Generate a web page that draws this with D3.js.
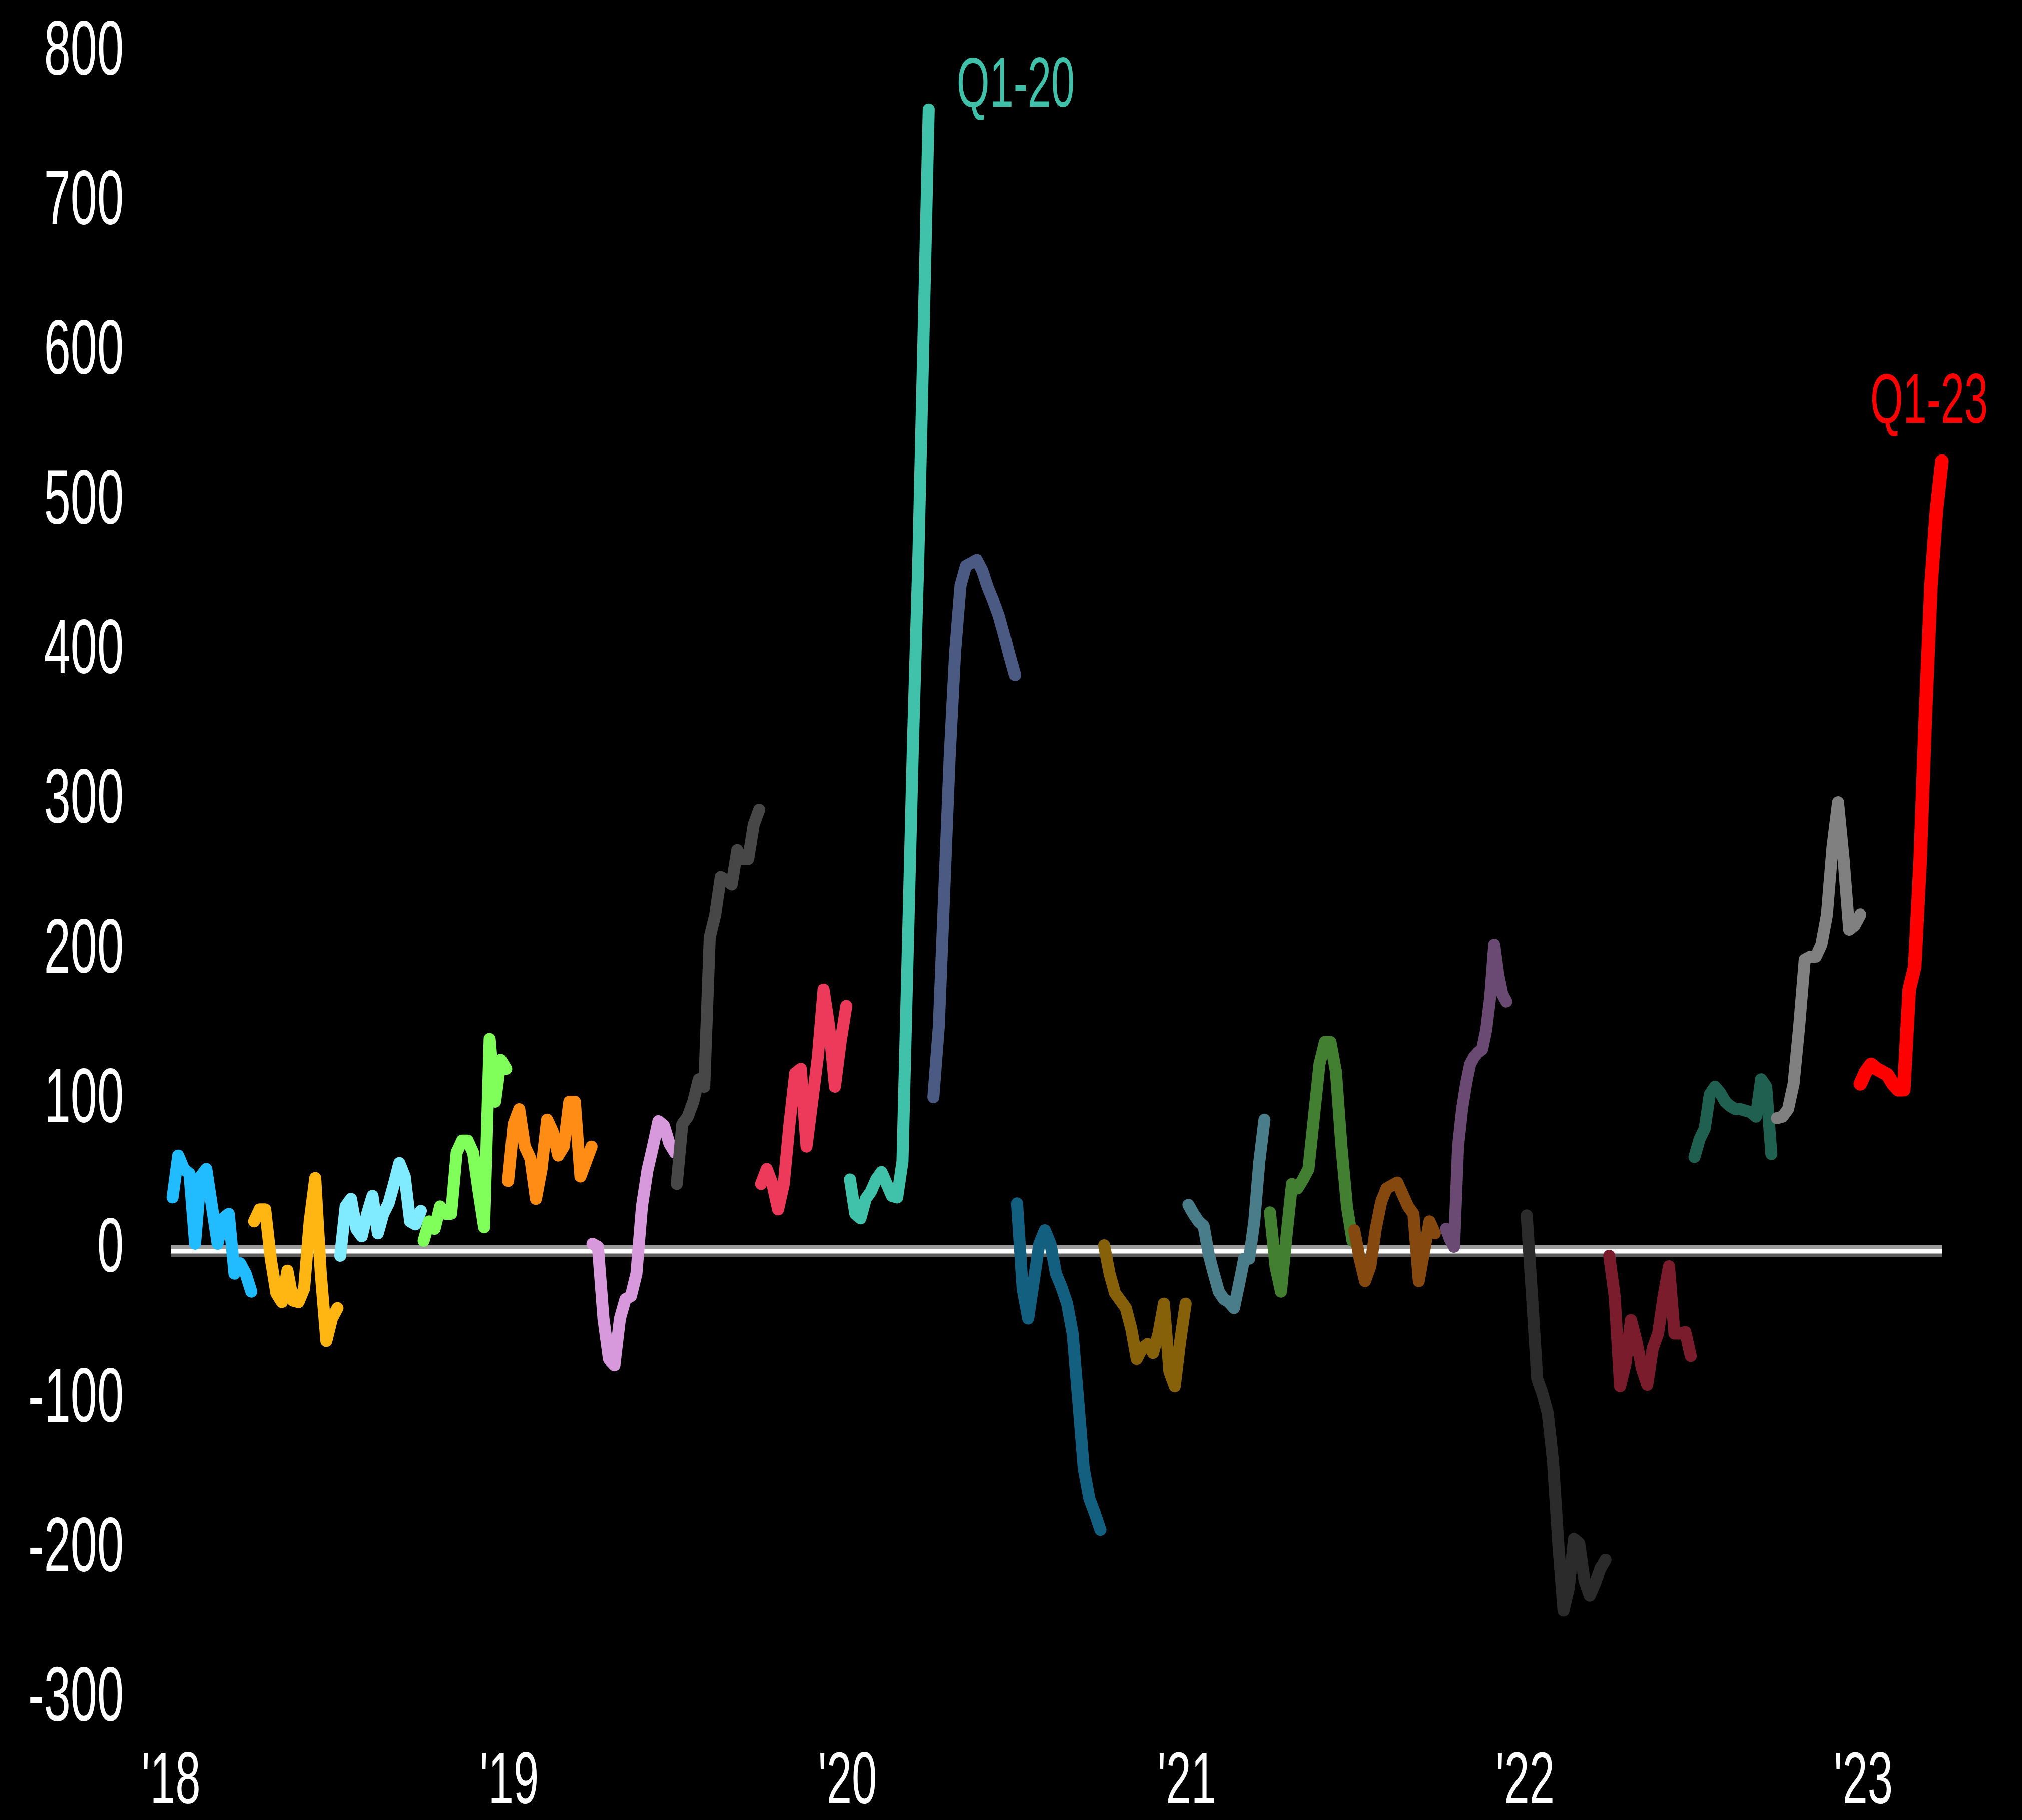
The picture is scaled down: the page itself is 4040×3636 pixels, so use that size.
<!DOCTYPE html>
<html>
<head>
<meta charset="utf-8">
<script src="https://cdn.jsdelivr.net/npm/d3@7"></script>
<style>
  html, body { margin: 0; padding: 0; background: #000; }
  svg { display: block; }
</style>
</head>
<body>
<svg id="chart"></svg>
<script>
// ---------------- DATA ----------------
const quarters = ["Q1-18","Q2-18","Q3-18","Q4-18","Q1-19","Q2-19","Q3-19","Q4-19",
                  "Q1-20","Q2-20","Q3-20","Q4-20","Q1-21","Q2-21","Q3-21","Q4-21",
                  "Q1-22","Q2-22","Q3-22","Q4-22","Q1-23"];
const firstDates = ["2018-01-03","2018-04-01","2018-07-03","2018-10-01","2018-12-31","2019-04-01",
                    "2019-07-01","2019-09-30","2020-01-04","2020-04-03","2020-07-02","2020-10-04",
                    "2021-01-03","2021-04-01","2021-07-01","2021-10-08","2022-01-03","2022-04-02",
                    "2022-07-03","2022-09-30","2022-12-29"];
const lastDates  = ["2018-03-29","2018-06-30","2018-09-28","2018-12-29","2019-03-31","2019-06-29",
                    "2019-09-28","2019-12-31","2020-03-29","2020-06-30","2020-09-30","2020-12-31",
                    "2021-03-26","2021-06-29","2021-09-26","2021-12-12","2022-03-29","2022-06-29",
                    "2022-09-24","2022-12-29","2023-03-27"];
const colors = ["#20bcff","#ffb612","#80eaff","#80ff5a","#ff8c14","#d898dc","#474747","#ee3a5a",
                "#40c2aa","#4a5a82","#135f80","#87600a","#4a7d8a","#437f30","#85480f","#6a4a72",
                "#2b2b2b","#7a1c2c","#206050","#808080","#ff0000"];

const q1_18 = [36, 64, 55, 52, 5, 50, 55, 30, 5, 22, 25, -15, -8, -15, -27];
const q2_18 = [20, 28, 28, -5, -28, -34, -13, -33, -34, -25, 20, 49, -15, -60, -45, -38];
const q3_18 = [-3, 30, 35, 15, 10, 25, 37, 12, 25, 32, 45, 59, 50, 20, 18, 27];
const q4_18 = [7, 20, 15, 30, 25, 25, 66, 74, 74, 66, 40, 16, 142, 100, 128, 122];
const q1_19 = [47, 85, 95, 70, 62, 35, 55, 88, 80, 64, 70, 100, 100, 50, 60, 70];
const q2_19 = [5, 3, -45, -72, -76, -45, -32, -30, -15, 30, 54, 70, 87, 84, 72, 66];
const q3_19 = [45, 85, 90, 100, 115, 110, 210, 225, 250, 248, 245, 268, 262, 262, 285, 295];
const q4_19 = [45, 55, 45, 28, 45, 85, 119, 122, 70, 100, 130, 175, 150, 110, 140, 164];
const q1_20 = [48, 25, 22, 35, 40, 48, 53, 45, 37, 36, 60, 200, 340, 460, 610, 763];
const q2_20 = [103, 150, 240, 330, 400, 445, 458, 460, 462, 455, 444, 435, 425, 412, 398, 385];
const q3_20 = [32, -25, -45, -20, 5, 14, 5, -15, -24, -35, -55, -99, -145, -165, -175, -186];
const q4_20 = [4, -15, -28, -33, -38, -52, -72, -65, -62, -68, -55, -35, -80, -90, -60, -35];
const q1_21 = [31, 25, 20, 17, -2, -15, -27, -32, -34, -38, -22, -5, -5, 20, 60, 88];
const q2_21 = [26, -10, -27, 10, 45, 42, 48, 55, 90, 125, 140, 140, 120, 70, 30, 7];
const q3_21 = [14, -5, -20, -10, 15, 33, 42, 44, 46, 38, 30, 25, -20, 0, 20, 12];
const q4_21 = [15, 8, 3, 70, 95, 112, 125, 130, 133, 135, 148, 170, 205, 185, 172, 167];
const q1_22 = [24, -30, -85, -95, -108, -140, -195, -240, -225, -192, -195, -220, -230, -222, -212, -206];
const q2_22 = [-3, -30, -90, -75, -46, -60, -78, -89, -65, -55, -30, -10, -55, -55, -54, -70];
const q3_22 = [63, 75, 82, 105, 110, 106, 100, 97, 95, 95, 94, 93, 90, 115, 110, 65];
const q4_22 = [89, 90, 95, 112, 150, 195, 197, 197, 205, 225, 270, 300, 262, 215, 218, 225];
const q1_23 = [112, 120, 125, 122, 120, 118, 112, 108, 108, 175, 190, 260, 360, 445, 495, 528];

const seriesValues = [q1_18, q2_18, q3_18, q4_18, q1_19, q2_19, q3_19, q4_19,
                      q1_20, q2_20, q3_20, q4_20, q1_21, q2_21, q3_21, q4_21,
                      q1_22, q2_22, q3_22, q4_22, q1_23];

const yTicks = [-300, -200, -100, 0, 100, 200, 300, 400, 500, 600, 700, 800];
const xTickDates = ["2018-01-01","2019-01-01","2020-01-01","2021-01-01","2022-01-01","2023-01-01"];
const annotatedQuarters = ["Q1-20", "Q1-23"];

// ---------------- CHART ----------------
const W = 4040, H = 3636;
const parse = d3.utcParse("%Y-%m-%d");
const svg = d3.select("#chart").attr("width", W).attr("height", H)
  .style("background", "#000");
svg.append("rect").attr("width", W).attr("height", H).attr("fill", "#000");

const x = d3.scaleUtc()
  .domain([parse("2018-01-01"), parse("2023-03-27")])
  .range([341, 3880]);
const y = d3.scaleLinear().domain([-300, 800]).range([3397, 108]);

const FONT = "'Liberation Sans', Arial, sans-serif";
const SX = 0.62;

// y axis
const yAxis = d3.axisLeft(y).tickValues(yTicks).tickSize(0).tickPadding(0)
  .tickFormat(d => String(d));
const gy = svg.append("g").attr("transform", "translate(247,0)").call(yAxis);
gy.select(".domain").remove();
gy.selectAll("text")
  .attr("x", 0).attr("y", -9)
  .attr("transform", `scale(${SX},1)`)
  .attr("fill", "#ffffff")
  .style("font-family", FONT).style("font-size", "154px");

// x axis
const xAxis = d3.axisBottom(x).tickValues(xTickDates.map(parse)).tickSize(0).tickPadding(0)
  .tickFormat(d3.utcFormat("'%y"));
const gx = svg.append("g").attr("transform", "translate(0,3603)").call(xAxis);
gx.select(".domain").remove();
gx.selectAll("text")
  .attr("y", 0).attr("dy", 0)
  .attr("transform", `scale(${SX},1)`)
  .attr("fill", "#ffffff")
  .style("font-family", FONT).style("font-size", "146px");

// zero line (white with grey bevel)
const zx0 = x.range()[0], zx1 = x(parse(lastDates[lastDates.length - 1]));
const zy = y(0);
svg.append("line").attr("x1", zx0).attr("x2", zx1).attr("y1", zy - 8).attr("y2", zy - 8)
  .attr("stroke", "#9a9a9a").attr("stroke-width", 8);
svg.append("line").attr("x1", zx0).attr("x2", zx1).attr("y1", zy + 8).attr("y2", zy + 8)
  .attr("stroke", "#5c5c5c").attr("stroke-width", 8);
svg.append("line").attr("x1", zx0).attr("x2", zx1).attr("y1", zy).attr("y2", zy)
  .attr("stroke", "#ffffff").attr("stroke-width", 9);

// series
const series = quarters.map((q, i) => {
  const t0 = parse(firstDates[i]).getTime(), t1 = parse(lastDates[i]).getTime();
  const vals = seriesValues[i];
  const n = vals.length;
  return {
    q, color: colors[i],
    points: vals.map((v, k) => ({ date: new Date(t0 + (t1 - t0) * k / (n - 1)), value: v }))
  };
});

const line = d3.line().x(d => x(d.date)).y(d => y(d.value));
svg.append("g").selectAll("path").data(series).join("path")
  .attr("d", d => line(d.points))
  .attr("fill", "none")
  .attr("stroke", d => d.color)
  .attr("stroke-width", d => d.q === "Q1-23" ? 27 : 24)
  .attr("stroke-linejoin", "round")
  .attr("stroke-linecap", "round");

// annotations
const annOffsets = { "Q1-20": [56, -6], "Q1-23": [-143, -76] };
annotatedQuarters.forEach(q => {
  const s = series.find(d => d.q === q);
  const last = s.points[s.points.length - 1];
  const [dx, dy] = annOffsets[q];
  svg.append("g")
    .attr("transform", `translate(${x(last.date) + dx},${y(last.value) + dy}) scale(0.6,1)`)
    .append("text")
    .attr("x", 0).attr("y", 0)
    .attr("text-anchor", "start")
    .attr("fill", s.color)
    .style("font-family", FONT).style("font-size", "141px")
    .text(q);
});
</script>
</body>
</html>
